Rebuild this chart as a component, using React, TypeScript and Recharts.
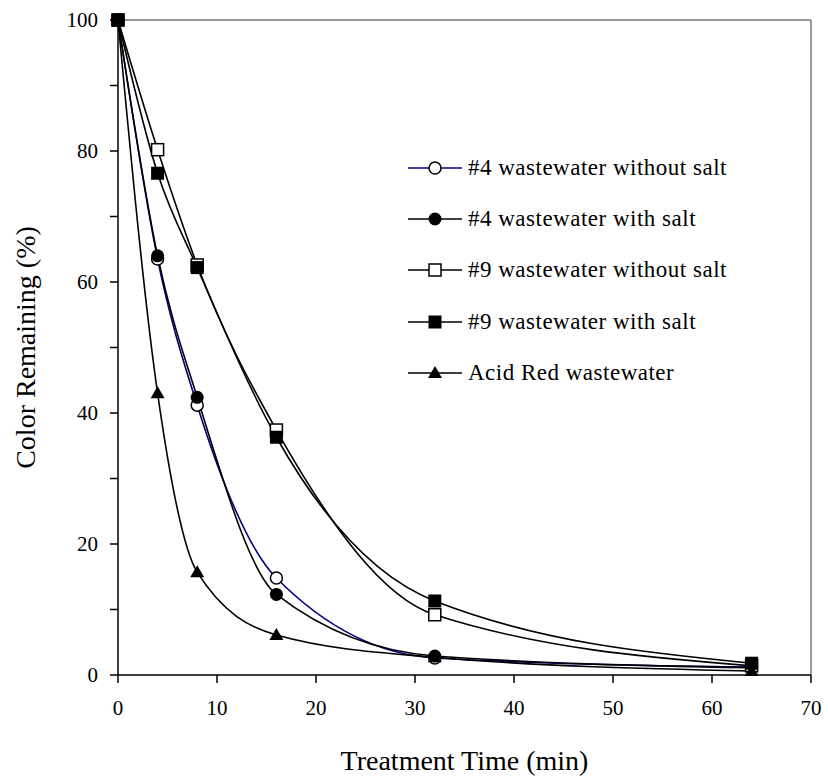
import { LineChart, Line, XAxis, YAxis, ReferenceLine } from "recharts";

const tiempos = [0, 4, 8, 16, 32, 64];
const ww4SinSal = [100, 63.5, 41.2, 14.8, 2.6, 1.2];
const ww4ConSal = [100, 64, 42.4, 12.3, 2.9, 1.1];
const ww9SinSal = [100, 80.2, 62.6, 37.4, 9.2, 1.4];
const ww9ConSal = [100, 76.6, 62.2, 36.3, 11.3, 1.8];
const rojoAcido = [100, 43, 15.7, 6.1, 2.7, 0.6];

const ticksX = [0, 10, 20, 30, 40, 50, 60, 70];
const ticksY = [0, 10, 20, 30, 40, 50, 60, 70, 80, 90, 100];

const datos = tiempos.map((t, i) => ({
  t,
  a: ww4SinSal[i],
  b: ww4ConSal[i],
  c: ww9SinSal[i],
  d: ww9ConSal[i],
  e: rojoAcido[i],
}));

type Tipo = "circuloAbierto" | "circulo" | "cuadradoAbierto" | "cuadrado" | "triangulo";

const series: { key: string; nombre: string; color: string; tipo: Tipo }[] = [
  { key: "a", nombre: "#4 wastewater without salt", color: "#000080", tipo: "circuloAbierto" },
  { key: "b", nombre: "#4 wastewater with salt", color: "#000", tipo: "circulo" },
  { key: "c", nombre: "#9 wastewater without salt", color: "#000", tipo: "cuadradoAbierto" },
  { key: "d", nombre: "#9 wastewater with salt", color: "#000", tipo: "cuadrado" },
  { key: "e", nombre: "Acid Red wastewater", color: "#000", tipo: "triangulo" },
];

const fuente = '"Liberation Serif", "Times New Roman", serif';
const ANCHO = 828;
const ALTO = 778;
const IZQ = 118;
const ARRIBA = 20;
const DERECHA = 811;
const ABAJO = 675;

function Marca({ tipo, cx, cy }: { tipo: Tipo; cx: number; cy: number }) {
  switch (tipo) {
    case "circuloAbierto":
      return <circle cx={cx} cy={cy} r={6} fill="#fff" stroke="#000" strokeWidth={1.5} />;
    case "circulo":
      return <circle cx={cx} cy={cy} r={6.5} fill="#000" />;
    case "cuadradoAbierto":
      return <rect x={cx - 6} y={cy - 6} width={12} height={12} fill="#fff" stroke="#000" strokeWidth={1.5} />;
    case "cuadrado":
      return <rect x={cx - 6.5} y={cy - 6.5} width={13} height={13} fill="#000" />;
    default:
      return <polygon points={`${cx},${cy - 7} ${cx + 7},${cy + 5} ${cx - 7},${cy + 5}`} fill="#000" />;
  }
}

function Leyenda() {
  return (
    <div style={{ position: "absolute", left: 408, top: 142, fontFamily: fuente }}>
      {series.map((s) => (
        <div key={s.key} style={{ display: "flex", alignItems: "center", height: 51.3 }}>
          <svg width={56} height={20}>
            <line x1={0} x2={54} y1={10} y2={10} stroke={s.color} strokeWidth={1.6} />
            <Marca tipo={s.tipo} cx={27} cy={10} />
          </svg>
          <span style={{ fontSize: 23, letterSpacing: 0.5, marginLeft: 4, color: "#000", whiteSpace: "nowrap" }}>
            {s.nombre}
          </span>
        </div>
      ))}
    </div>
  );
}

export default function App() {
  const estiloTick = { fill: "#000", fontSize: 21, fontFamily: fuente };
  return (
    <div style={{ position: "absolute", left: 0, top: 0, width: ANCHO, height: ALTO, background: "#fff" }}>
      <LineChart
        width={ANCHO}
        height={ALTO}
        data={datos}
        margin={{ top: ARRIBA, right: ANCHO - DERECHA, left: 0, bottom: 0 }}
      >
        <XAxis
          type="number"
          dataKey="t"
          domain={[0, 70]}
          ticks={ticksX}
          interval={0}
          height={ALTO - ABAJO}
          tick={estiloTick}
          tickSize={8}
          tickMargin={17}
          axisLine={{ stroke: "#000", strokeWidth: 1.5 }}
          tickLine={{ stroke: "#000", strokeWidth: 1.5 }}
          label={{
            content: () => (
              <text x={(IZQ + DERECHA) / 2} y={770} textAnchor="middle" fontFamily={fuente} fontSize={28} fill="#000">
                Treatment Time (min)
              </text>
            ),
          }}
        />
        <YAxis
          type="number"
          domain={[0, 100]}
          ticks={ticksY}
          interval={0}
          width={IZQ}
          tick={estiloTick}
          tickFormatter={(v) => (v % 20 === 0 ? String(v) : "")}
          tickSize={8}
          tickMargin={12}
          axisLine={{ stroke: "#000", strokeWidth: 1.5 }}
          tickLine={{ stroke: "#000", strokeWidth: 1.5 }}
          label={{
            content: () => {
              const cx = 35;
              const cy = (ARRIBA + ABAJO) / 2;
              return (
                <text
                  x={cx}
                  y={cy}
                  transform={`rotate(-90 ${cx} ${cy})`}
                  textAnchor="middle"
                  fontFamily={fuente}
                  fontSize={28}
                  fill="#000"
                >
                  Color Remaining (%)
                </text>
              );
            },
          }}
        />
        <ReferenceLine y={100} stroke="#777" strokeWidth={1.5} />
        <ReferenceLine x={70} stroke="#777" strokeWidth={1.5} />
        {series.map((s) => (
          <Line
            key={s.key}
            type="monotone"
            dataKey={s.key}
            stroke={s.color}
            strokeWidth={1.6}
            isAnimationActive={false}
            activeDot={false}
            dot={(p: any) => <Marca key={`${s.key}-${p.index}`} tipo={s.tipo} cx={p.cx} cy={p.cy} />}
          />
        ))}
      </LineChart>
      <Leyenda />
    </div>
  );
}
